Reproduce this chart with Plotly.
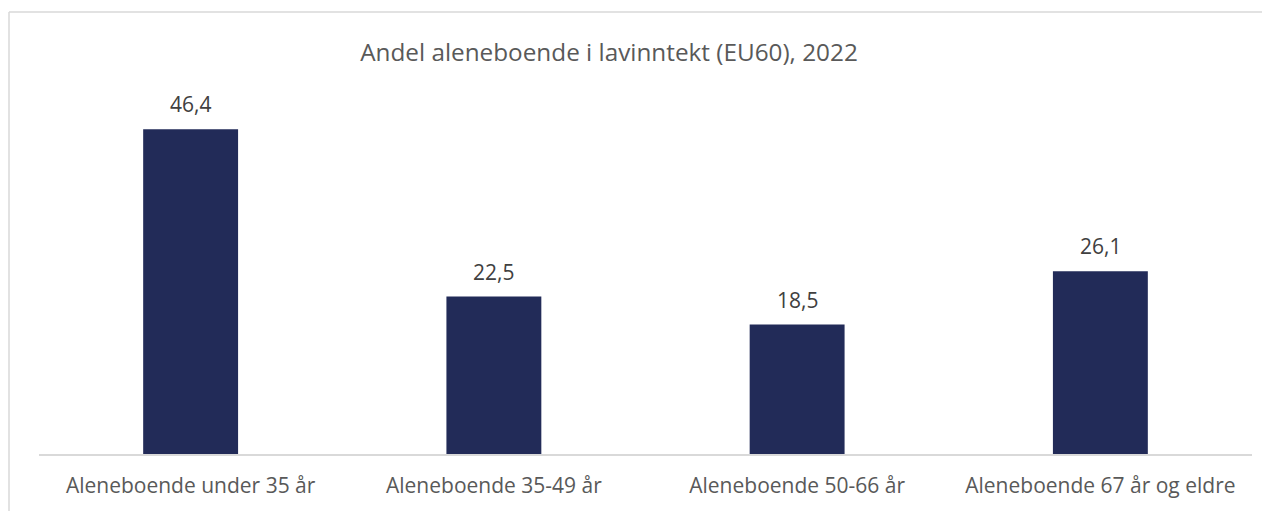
import plotly.graph_objects as go

categories = ["Aleneboende under 35 år", "Aleneboende 35-49 år", "Aleneboende 50-66 år", "Aleneboende 67 år og eldre"]
values = [46.4, 22.5, 18.5, 26.1]
value_labels = ["46,4", "22,5", "18,5", "26,1"]
title_text = "Andel aleneboende i lavinntekt (EU60), 2022"

# page body has an 8px offset; positions below are in figure coordinates
OFF = 8
W, H = 1270, 511
ml, mt = 39 - OFF, 104 - OFF
plot_right, plot_bottom = 1252 - OFF, 454 - OFF
mr = W - plot_right
mb = H - plot_bottom
pw = W - ml - mr
ph = H - mt - mb

FONT = "Open Sans"
BAR = "#222B58"
GREY = "#D9D9D9"

fig = go.Figure()
fig.add_trace(go.Bar(
    x=categories, y=values,
    marker=dict(color=BAR, line=dict(width=0)),
    hoverinfo="skip",
))

for c, v, t in zip(categories, values, value_labels):
    fig.add_annotation(x=c, y=v, text=t, showarrow=False, yanchor="bottom",
                       yshift=9, font=dict(family=FONT, size=21, color="#404040"))

def px_x(p):
    return (p - OFF - ml) / pw

def px_y(p):
    return (plot_bottom - (p - OFF)) / ph

fig.add_shape(type="line", xref="paper", yref="paper",
              x0=px_x(9), x1=px_x(1290), y0=px_y(12), y1=px_y(12),
              line=dict(color=GREY, width=1.5))
fig.add_shape(type="line", xref="paper", yref="paper",
              x0=px_x(9), x1=px_x(9), y0=px_y(12), y1=px_y(530),
              line=dict(color=GREY, width=1.5))

fig.update_layout(
    width=W, height=H,
    margin=dict(l=ml, r=mr, t=mt, b=mb),
    paper_bgcolor="white", plot_bgcolor="white",
    bargap=0.687,
    showlegend=False,
    title=dict(text=title_text, x=(609 - OFF) / W, xanchor="center", y=1 - (52 - OFF) / H, yanchor="middle",
               font=dict(family=FONT, size=24.3, color="#595959")),
    font=dict(family=FONT, color="#595959"),
    xaxis=dict(showline=True, linecolor=GREY, linewidth=1.5, ticks="outside", ticklen=12,
               tickcolor="rgba(0,0,0,0)", tickfont=dict(family=FONT, size=21, color="#595959"),
               showgrid=False, zeroline=False),
    yaxis=dict(range=[0, 50], visible=False, showgrid=False, zeroline=False),
)

fig.write_html("out.html")
